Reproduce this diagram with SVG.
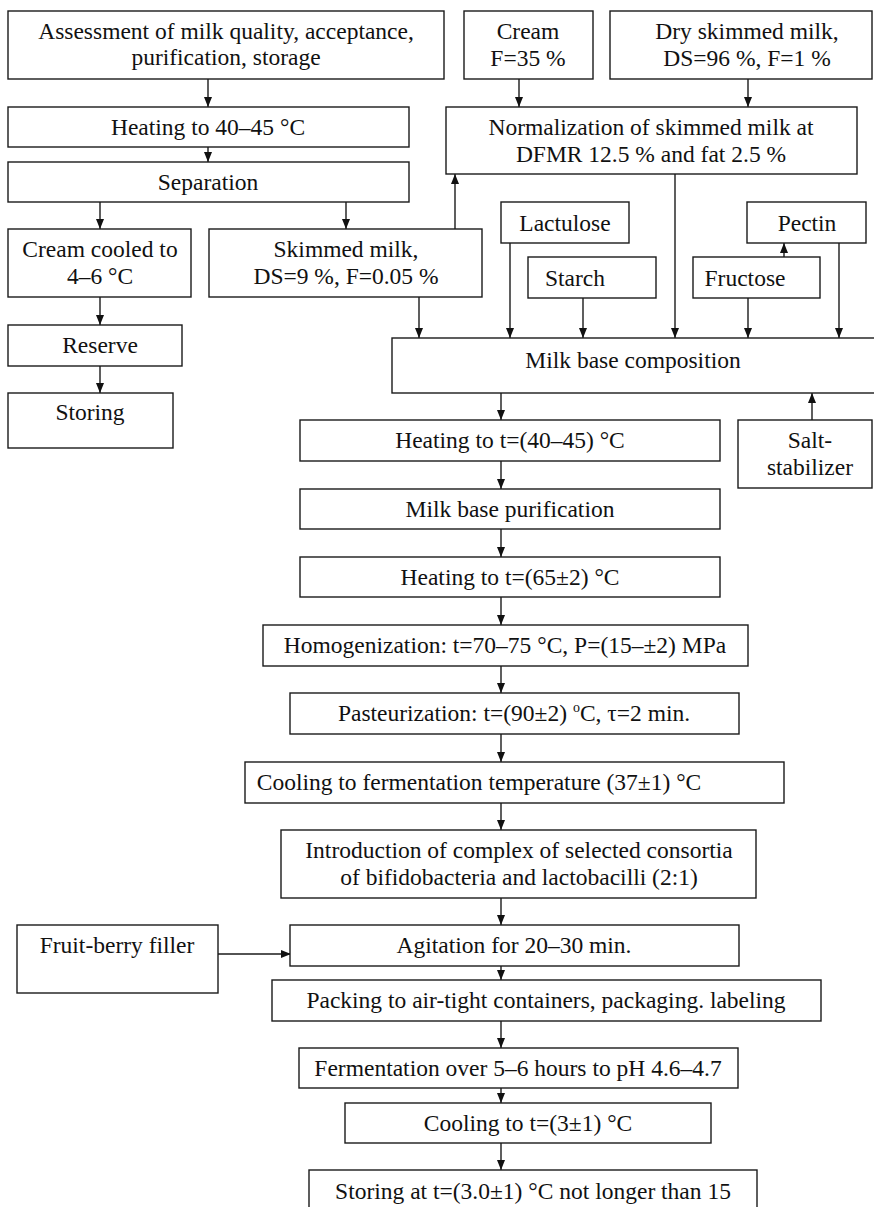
<svg xmlns="http://www.w3.org/2000/svg" width="874" height="1207" viewBox="0 0 874 1207">
<defs>
<style>
.b{fill:#fff;stroke:#1a1a1a;stroke-width:1.4}
.t{font-family:"Liberation Serif","Times New Roman",serif;font-size:23.5px;fill:#111;text-anchor:middle}
.c{fill:none;stroke:#1a1a1a;stroke-width:1.4}
</style>
<marker id="ah" viewBox="0 0 10 10" refX="10" refY="5" markerWidth="10" markerHeight="10" markerUnits="userSpaceOnUse" orient="auto">
<path d="M0,1 L10,5 L0,9 Z" fill="#111"/>
</marker>
</defs>
<rect width="874" height="1207" fill="#fff"/>

<g id="connectors">
<line class="c" x1="208" y1="79" x2="208" y2="107" marker-end="url(#ah)"/>
<line class="c" x1="208" y1="147" x2="208" y2="162" marker-end="url(#ah)"/>
<line class="c" x1="100" y1="202" x2="100" y2="229" marker-end="url(#ah)"/>
<line class="c" x1="346" y1="202" x2="346" y2="229" marker-end="url(#ah)"/>
<line class="c" x1="100" y1="297" x2="100" y2="325" marker-end="url(#ah)"/>
<line class="c" x1="100" y1="366" x2="100" y2="393" marker-end="url(#ah)"/>
<line class="c" x1="519" y1="79" x2="519" y2="107" marker-end="url(#ah)"/>
<line class="c" x1="748" y1="79" x2="748" y2="107" marker-end="url(#ah)"/>
<line class="c" x1="455" y1="229" x2="455" y2="174" marker-end="url(#ah)"/>
<line class="c" x1="675" y1="174" x2="675" y2="338" marker-end="url(#ah)"/>
<line class="c" x1="510" y1="243" x2="510" y2="338" marker-end="url(#ah)"/>
<line class="c" x1="583" y1="298" x2="583" y2="338" marker-end="url(#ah)"/>
<line class="c" x1="748" y1="298" x2="748" y2="338" marker-end="url(#ah)"/>
<line class="c" x1="839" y1="243" x2="839" y2="338" marker-end="url(#ah)"/>
<line class="c" x1="784" y1="257" x2="784" y2="243" marker-end="url(#ah)"/>
<line class="c" x1="419" y1="297" x2="419" y2="338" marker-end="url(#ah)"/>
<line class="c" x1="501" y1="393" x2="501" y2="420" marker-end="url(#ah)"/>
<line class="c" x1="812" y1="420" x2="812" y2="393" marker-end="url(#ah)"/>
<line class="c" x1="501" y1="461" x2="501" y2="489" marker-end="url(#ah)"/>
<line class="c" x1="501" y1="529" x2="501" y2="557" marker-end="url(#ah)"/>
<line class="c" x1="501" y1="597" x2="501" y2="625" marker-end="url(#ah)"/>
<line class="c" x1="501" y1="666" x2="501" y2="693" marker-end="url(#ah)"/>
<line class="c" x1="501" y1="734" x2="501" y2="762" marker-end="url(#ah)"/>
<line class="c" x1="501" y1="803" x2="501" y2="830" marker-end="url(#ah)"/>
<line class="c" x1="501" y1="898" x2="501" y2="925" marker-end="url(#ah)"/>
<line class="c" x1="218" y1="954" x2="291" y2="954" marker-end="url(#ah)"/>
<line class="c" x1="501" y1="966" x2="501" y2="980" marker-end="url(#ah)"/>
<line class="c" x1="501" y1="1021" x2="501" y2="1048" marker-end="url(#ah)"/>
<line class="c" x1="501" y1="1088" x2="501" y2="1103" marker-end="url(#ah)"/>
<line class="c" x1="501" y1="1143" x2="501" y2="1170" marker-end="url(#ah)"/>
</g>

<g id="assessment"><rect class="b" x="8" y="11" width="436" height="68"/>
<text class="t" x="226" y="39">Assessment of milk quality, acceptance,<tspan x="226" dy="26">purification, storage</tspan></text></g>

<g id="cream"><rect class="b" x="464" y="11" width="129" height="68"/>
<text class="t" x="528" y="39">Cream<tspan x="528" dy="27">F=35 %</tspan></text></g>

<g id="dry-milk"><rect class="b" x="610" y="11" width="262" height="68"/>
<text class="t" x="747" y="39">Dry skimmed milk,<tspan x="747" dy="27">DS=96 %, F=1 %</tspan></text></g>

<g id="heating1"><rect class="b" x="8" y="107" width="401" height="40"/>
<text class="t" x="208" y="135">Heating to 40–45 °C</text></g>

<g id="normalization"><rect class="b" x="446" y="107" width="411" height="67"/>
<text class="t" x="651" y="135">Normalization of skimmed milk at<tspan x="651" dy="27">DFMR 12.5 % and fat 2.5 %</tspan></text></g>

<g id="separation"><rect class="b" x="8" y="162" width="401" height="40"/>
<text class="t" x="208" y="190">Separation</text></g>

<g id="lactulose"><rect class="b" x="501" y="202" width="128" height="41"/>
<text class="t" x="565" y="231">Lactulose</text></g>

<g id="pectin"><rect class="b" x="747" y="202" width="119" height="41"/>
<text class="t" x="807" y="231">Pectin</text></g>

<g id="cream-cooled"><rect class="b" x="8" y="229" width="183" height="68"/>
<text class="t" x="100" y="257">Cream cooled to<tspan x="100" dy="27">4–6 °C</tspan></text></g>

<g id="skimmed"><rect class="b" x="209" y="229" width="273" height="68"/>
<text class="t" x="346" y="257">Skimmed milk,<tspan x="346" dy="27">DS=9 %, F=0.05 %</tspan></text></g>

<g id="starch"><rect class="b" x="528" y="257" width="128" height="41"/>
<text class="t" x="575" y="286">Starch</text></g>

<g id="fructose"><rect class="b" x="693" y="257" width="127" height="41"/>
<text class="t" x="745" y="286">Fructose</text></g>

<g id="reserve"><rect class="b" x="8" y="325" width="174" height="41"/>
<text class="t" x="100" y="353">Reserve</text></g>

<g id="milk-base"><rect class="b" x="392" y="338" width="490" height="55"/>
<text class="t" x="633" y="368">Milk base composition</text></g>

<g id="storing-cream"><rect class="b" x="8" y="393" width="165" height="55"/>
<text class="t" x="90" y="420">Storing</text></g>

<g id="heating2"><rect class="b" x="300" y="420" width="420" height="41"/>
<text class="t" x="510" y="448">Heating to t=(40–45) °C</text></g>

<g id="salt"><rect class="b" x="738" y="420" width="134" height="68"/>
<text class="t" x="810" y="448">Salt-<tspan x="810" dy="27">stabilizer</tspan></text></g>

<g id="purification"><rect class="b" x="300" y="489" width="420" height="40"/>
<text class="t" x="510" y="517">Milk base purification</text></g>

<g id="heating3"><rect class="b" x="300" y="557" width="420" height="40"/>
<text class="t" x="510" y="585">Heating to t=(65±2) °C</text></g>

<g id="homogenization"><rect class="b" x="263" y="625" width="485" height="41"/>
<text class="t" x="505" y="653">Homogenization: t=70–75 °C, P=(15–±2) MPa</text></g>

<g id="pasteurization"><rect class="b" x="290" y="693" width="449" height="41"/>
<text class="t" x="514" y="721">Pasteurization: t=(90±2) <tspan font-size="14" dy="-9">o</tspan><tspan dy="9">C, τ=2 min.</tspan></text></g>

<g id="cooling-ferm"><rect class="b" x="245" y="762" width="539" height="41"/>
<text class="t" x="479" y="790">Cooling to fermentation temperature (37±1) °C</text></g>

<g id="introduction"><rect class="b" x="281" y="830" width="475" height="68"/>
<text class="t" x="519" y="858">Introduction of complex of selected consortia<tspan x="519" dy="27">of bifidobacteria and lactobacilli (2:1)</tspan></text></g>

<g id="fruit"><rect class="b" x="17" y="925" width="201" height="68"/>
<text class="t" x="117" y="953">Fruit-berry filler</text></g>

<g id="agitation"><rect class="b" x="290" y="925" width="449" height="41"/>
<text class="t" x="514" y="953">Agitation for 20–30 min.</text></g>

<g id="packing"><rect class="b" x="272" y="980" width="549" height="41"/>
<text class="t" x="546" y="1008">Packing to air-tight containers, packaging. labeling</text></g>

<g id="fermentation"><rect class="b" x="299" y="1048" width="439" height="40"/>
<text class="t" x="518" y="1076">Fermentation over 5–6 hours to pH 4.6–4.7</text></g>

<g id="cooling-final"><rect class="b" x="345" y="1103" width="366" height="40"/>
<text class="t" x="528" y="1131">Cooling to t=(3±1) °C</text></g>

<g id="storing-final"><rect class="b" x="309" y="1170" width="448" height="50"/>
<text class="t" x="533" y="1199">Storing at t=(3.0±1) °C not longer than 15</text></g>
</svg>
